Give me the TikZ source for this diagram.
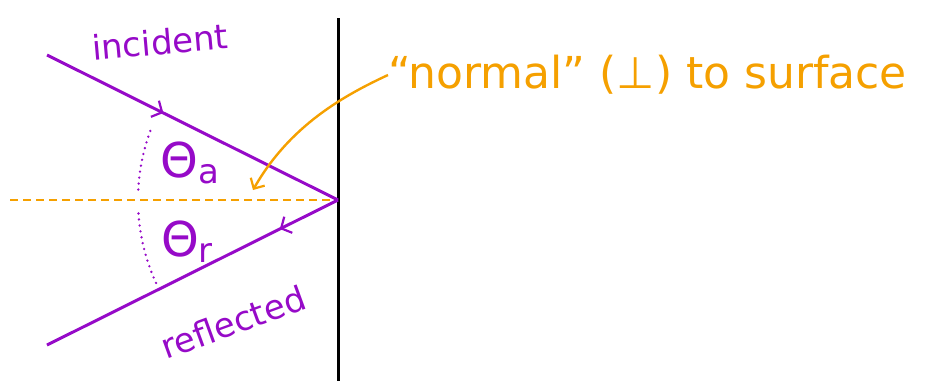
\documentclass[tikz,border=0pt]{standalone}
\usepackage{fontspec}
\setmainfont{DejaVu Sans}
\usetikzlibrary{arrows.meta,decorations.markings}
\definecolor{ray}{RGB}{150,10,200}
\definecolor{norm}{RGB}{245,160,0}
\tikzset{
  raystyle/.style={draw=ray, line width=3pt},
  midarrow/.style={postaction={decorate,decoration={markings,mark=at position #1 with {\arrow{Straight Barb[length=8pt,width=18pt,line width=2.2pt]}}}}},
  dotarc/.style={draw=ray, line width=2.6pt, line cap=round, dash pattern=on 0pt off 6pt},
  lbl/.style={text=ray, font=\fontsize{34}{36}\selectfont, inner sep=0pt},
  theta/.style={text=ray, font=\fontsize{48}{50}\selectfont, inner sep=0pt},
  ann/.style={text=norm, font=\fontsize{44}{46}\selectfont, inner sep=0pt},
}
\newcommand{\subtxt}[1]{\raisebox{-0.12em}{\fontsize{34}{36}\selectfont #1}}
\begin{document}
\begin{tikzpicture}[x=1pt,y=-1pt]
\useasboundingbox (0,0) rectangle (926,381);
\coordinate (top) at (338,18);
\coordinate (bot) at (338,381);
\coordinate (hit) at (338,200);
\coordinate (inA) at (47,55);
\coordinate (outB) at (47,345);
\coordinate (nleft) at (10,200);
\draw[line width=3pt] (top) -- (bot);
\draw[norm, line width=2.4pt, dash pattern=on 8pt off 5pt] (nleft) -- (hit);
\draw[raystyle, midarrow=0.4] (inA) -- (hit);
\draw[raystyle, midarrow=0.2] (hit) -- (outB);
\draw[dotarc] (hit) ++(155.5:200) arc[start angle=155.5, end angle=177, radius=200];
\draw[dotarc] (hit) ++(183:200) arc[start angle=183, end angle=201.5, radius=200];
\node[theta] (ta) at (190,163) {Θ\subtxt{a}};
\node[theta] (tr) at (187,242) {Θ\subtxt{r}};
\node[lbl, rotate=5] (inc) at (160,42) {incident};
\node[lbl, rotate=20] (refl) at (233,322) {reflected};
\node[ann, anchor=west] (normtxt) at (388,75) {“normal” (⊥) to surface};
\coordinate (tip) at (253,190);
\draw[norm, line width=2.4pt, -{Straight Barb[length=8pt,width=16pt,line width=2.2pt]}] (normtxt.west) .. controls (345,95) and (290,125) .. (tip);
\end{tikzpicture}
\end{document}
